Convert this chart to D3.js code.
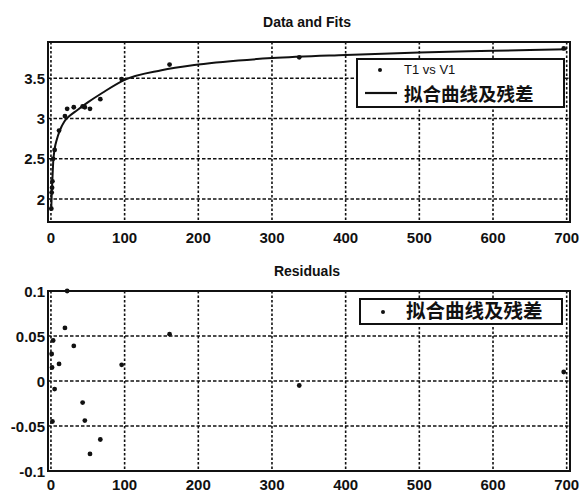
<!DOCTYPE html>
<html>
  <head>
    <meta charset="utf-8">
    <style>
      body { margin: 0; background: #fff; }
      text { font-family: "Liberation Sans", Arial, sans-serif; fill: #111; }
      .tick-label { font-size: 15px; font-weight: bold; }
      .title { font-size: 14px; font-weight: bold; }
      .cjk { font-family: "Noto Sans CJK SC", sans-serif; font-weight: bold; }
    </style>
  </head>
  <body>
    <div class='chart-container'></div>
    <script src="https://cdn.jsdelivr.net/npm/d3@7"></script>
    <script>
// measured data: T1 vs V1
var dataT = [0.5, 1, 1.5, 2, 3, 5, 11, 19, 22, 31, 43, 46, 53, 67, 96, 161, 337, 696];
var dataV = [1.88, 2.08, 2.14, 2.22, 2.5, 2.61, 2.85, 3.03, 3.12, 3.14, 3.15, 3.14, 3.12, 3.24, 3.49, 3.67, 3.76, 3.87];

// fitted curve
var fitT = [0.5, 1, 2, 3, 5, 8, 12, 18, 25, 35, 50, 70, 100, 150, 200, 300, 400, 500, 600, 700];
var fitV = [1.9, 2.05, 2.25, 2.45, 2.62, 2.74, 2.85, 2.96, 3.03, 3.1, 3.2, 3.32, 3.48, 3.6, 3.67, 3.75, 3.79, 3.82, 3.84, 3.86];

// residuals
var resT = [1, 1.5, 2, 3, 5, 11, 19, 22, 31, 43, 46, 53, 67, 96, 161, 337, 696];
var resV = [0.03, 0.015, -0.045, 0.045, -0.009, 0.019, 0.059, 0.1, 0.039, -0.024, -0.044, -0.081, -0.065, 0.018, 0.052, -0.005, 0.01];

var xTicks = [0, 100, 200, 300, 400, 500, 600, 700];
var yTicksTop = [2, 2.5, 3, 3.5];
var yTicksBottom = [-0.1, -0.05, 0, 0.05, 0.1];

var titles = ['Data and Fits', 'Residuals'];
var legendTop = ['T1 vs V1', '拟合曲线及残差'];
var legendBottom = ['拟合曲线及残差'];

var width = 581, height = 492;
var svg = d3.select('.chart-container').append('svg')
    .attr('width', width)
    .attr('height', height);

var left = 48, right = 570;
var x = d3.scaleLinear().domain([-4, 704.5]).range([left, right]);

function drawPanel(opts) {
  var y = d3.scaleLinear().domain(opts.yDomain).range([opts.bottom, opts.top]);
  var g = svg.append('g');

  // grid
  g.selectAll('.vgrid').data(xTicks).enter().append('line')
      .attr('x1', d => x(d)).attr('x2', d => x(d))
      .attr('y1', opts.top).attr('y2', opts.bottom)
      .style('stroke', '#111').style('stroke-width', 1.6)
      .style('stroke-dasharray', '2.5,2');
  g.selectAll('.hgrid').data(opts.yTicks).enter().append('line')
      .attr('x1', left).attr('x2', right)
      .attr('y1', d => y(d)).attr('y2', d => y(d))
      .style('stroke', '#111').style('stroke-width', 1.6)
      .style('stroke-dasharray', '3.5,2');

  // frame
  g.append('rect')
      .attr('x', left).attr('y', opts.top)
      .attr('width', right - left).attr('height', opts.bottom - opts.top)
      .style('fill', 'none').style('stroke', '#111').style('stroke-width', 2);

  // tick labels
  g.selectAll('.xl').data(xTicks).enter().append('text')
      .attr('class', 'tick-label')
      .attr('x', d => x(d)).attr('y', opts.bottom + opts.xLabelGap)
      .attr('text-anchor', 'middle')
      .text(d => d);
  g.selectAll('.yl').data(opts.yTicks).enter().append('text')
      .attr('class', 'tick-label')
      .attr('x', left - 3).attr('y', d => y(d) + 5.5)
      .attr('text-anchor', 'end')
      .text(d => d);

  g.append('text')
      .attr('class', 'title')
      .attr('x', 307).attr('y', opts.top - 15)
      .attr('text-anchor', 'middle')
      .text(opts.title);

  return {g: g, y: y};
}

// top panel
var fitsPanel = drawPanel({top: 42, bottom: 222, yDomain: [1.715, 3.95], yTicks: yTicksTop,
                           title: titles[0], xLabelGap: 21});

var fitLine = d3.line()
    .curve(d3.curveMonotoneX)
    .x(d => x(d[0]))
    .y(d => fitsPanel.y(d[1]));

fitsPanel.g.append('path')
    .datum(d3.zip(fitT, fitV))
    .attr('d', fitLine)
    .style('fill', 'none').style('stroke', '#111').style('stroke-width', 2);

fitsPanel.g.selectAll('.pt').data(d3.zip(dataT, dataV)).enter().append('circle')
    .attr('cx', d => x(d[0])).attr('cy', d => fitsPanel.y(d[1]))
    .attr('r', 2.4).style('fill', '#111');

// top legend
var lg = fitsPanel.g.append('g');
lg.append('rect')
    .attr('x', 357).attr('y', 59).attr('width', 207).attr('height', 48)
    .style('fill', '#fff').style('stroke', '#111').style('stroke-width', 2);
lg.append('circle').attr('cx', 380).attr('cy', 70).attr('r', 2).style('fill', '#111');
lg.append('text').attr('x', 404).attr('y', 74)
    .style('font-size', '13px')
    .text(legendTop[0]);
lg.append('line').attr('x1', 365).attr('x2', 397).attr('y1', 93).attr('y2', 93)
    .style('stroke', '#111').style('stroke-width', 2.2);
lg.append('text').attr('class', 'cjk').attr('x', 404).attr('y', 101)
    .style('font-size', '18.5px')
    .text(legendTop[1]);

// bottom panel
var resPanel = drawPanel({top: 291, bottom: 471, yDomain: [-0.1, 0.1], yTicks: yTicksBottom,
                          title: titles[1], xLabelGap: 19});

resPanel.g.selectAll('.pt').data(d3.zip(resT, resV)).enter().append('circle')
    .attr('cx', d => x(d[0])).attr('cy', d => resPanel.y(d[1]))
    .attr('r', 2.4).style('fill', '#111');

var lb = resPanel.g.append('g');
lb.append('rect')
    .attr('x', 360).attr('y', 299).attr('width', 202).attr('height', 25)
    .style('fill', '#fff').style('stroke', '#111').style('stroke-width', 2);
lb.append('circle').attr('cx', 383).attr('cy', 312).attr('r', 2).style('fill', '#111');
lb.append('text').attr('class', 'cjk').attr('x', 406).attr('y', 318)
    .style('font-size', '19.5px')
    .text(legendBottom[0]);
    </script>
  </body>
</html>
